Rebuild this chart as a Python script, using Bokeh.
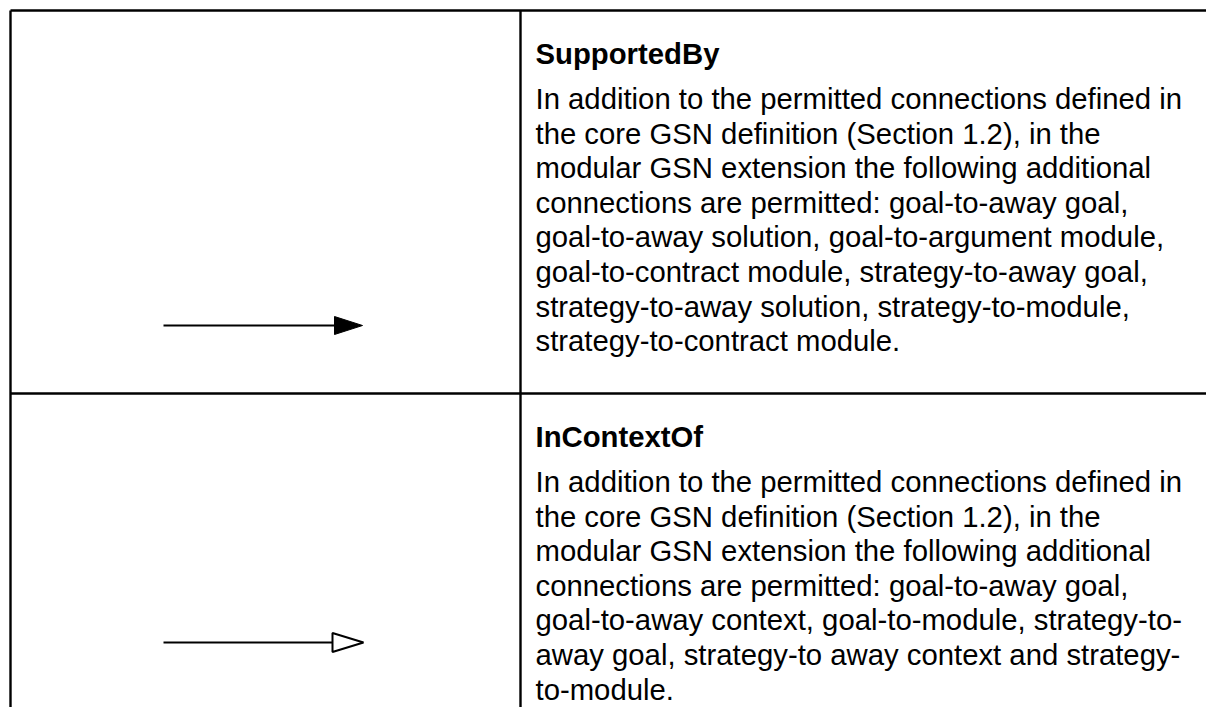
from bokeh.plotting import figure
from bokeh.models import Range1d
from bokeh.core.properties import value
from bokeh.embed import file_html
from bokeh.resources import INLINE

# ---- data ----
row_titles = ["SupportedBy", "InContextOf"]
row1_lines = [
    "In addition to the permitted connections defined in",
    "the core GSN definition (Section 1.2), in the",
    "modular GSN extension the following additional",
    "connections are permitted: goal-to-away goal,",
    "goal-to-away solution, goal-to-argument module,",
    "goal-to-contract module, strategy-to-away goal,",
    "strategy-to-away solution, strategy-to-module,",
    "strategy-to-contract module.",
]
row2_lines = [
    "In addition to the permitted connections defined in",
    "the core GSN definition (Section 1.2), in the",
    "modular GSN extension the following additional",
    "connections are permitted: goal-to-away goal,",
    "goal-to-away context, goal-to-module, strategy-to-",
    "away goal, strategy-to away context and strategy-",
    "to-module.",
]
arrow_styles = ["filled", "open"]

# ---- layout (picture pixel coordinates) ----
W, H = 1206, 707
p = figure(width=W, height=H, output_backend="svg", toolbar_location=None,
           x_range=Range1d(0, W), y_range=Range1d(H, 0),
           min_border=0, outline_line_color=None)
p.axis.visible = False
p.grid.visible = False
p.background_fill_color = "white"
p.border_fill_color = "white"

left_x, col_x, right_x = 10, 520, 1210
top_y, mid_y, bot_y = 10, 393, 710
lw = 2.4
# table borders
p.segment(x0=[left_x, left_x, left_x, col_x], y0=[top_y, mid_y, top_y, top_y],
          x1=[right_x, right_x, left_x, col_x], y1=[top_y, mid_y, bot_y, bot_y],
          line_color="black", line_width=lw)

font = value("Liberation Sans")
fs = "29.3px"
text_x = 535
line_h = 34.6
row_tops = [top_y, mid_y]
bodies = [row1_lines, row2_lines]
for i, (title, body) in enumerate(zip(row_titles, bodies)):
    tb = row_tops[i] + 43
    p.text(x=[text_x], y=[tb], text=[title], text_font=font,
           text_font_size=fs, text_font_style="bold", text_color="black",
           text_baseline="alphabetic", text_align="left")
    ys = [tb + 45 + k * line_h for k in range(len(body))]
    p.text(x=[text_x] * len(body), y=ys, text=body, text_font=font,
           text_font_size=fs, text_color="black",
           text_baseline="alphabetic", text_align="left")

# arrows
arrow_y = [325, 642]
ax0 = 163
for style, ay in zip(arrow_styles, arrow_y):
    if style == "filled":
        base, tip, half = 334, 362, 9
        p.segment(x0=[ax0], y0=[ay], x1=[base], y1=[ay], line_color="black", line_width=2)
        p.patch(x=[base, base, tip], y=[ay - half, ay + half, ay], fill_color="black",
                line_color="black", line_width=1)
    else:
        base, tip, half = 332, 363, 9.5
        p.segment(x0=[ax0], y0=[ay], x1=[base], y1=[ay], line_color="black", line_width=2)
        p.patch(x=[base, base, tip], y=[ay - half, ay + half, ay], fill_color="white",
                line_color="black", line_width=2)

open("out.html", "w").write(file_html(p, INLINE))
